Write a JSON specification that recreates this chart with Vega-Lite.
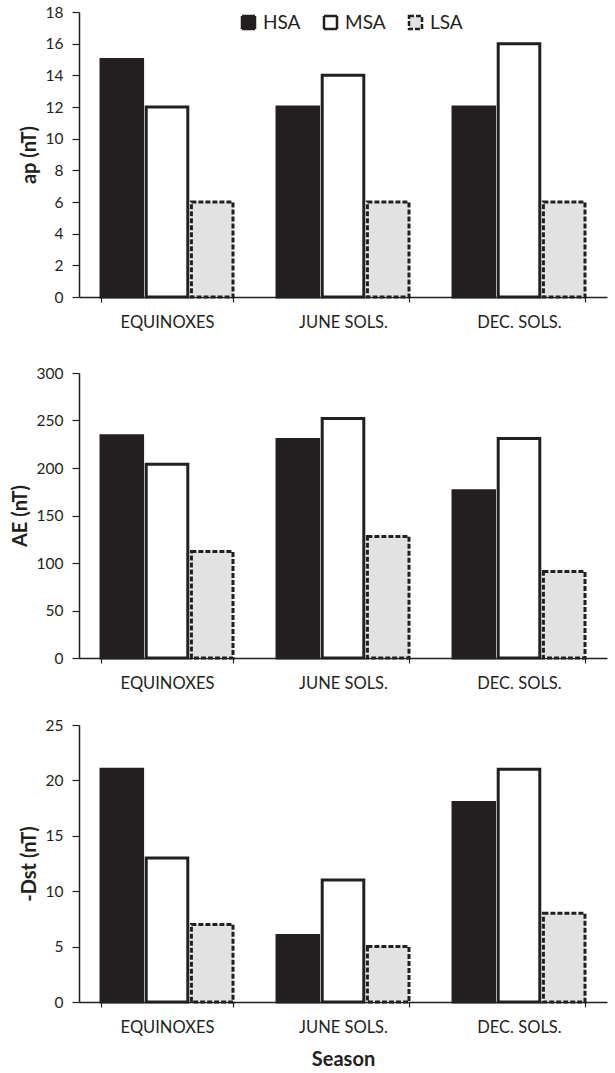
{
  "$schema": "https://vega.github.io/schema/vega-lite/v6.json",
  "padding": {"left": 10, "top": 5, "right": 5, "bottom": 3},
  "background": "white",
  "datasets": {
    "ap": [
      {"season": "EQUINOXES", "series": "HSA", "value": 15},
      {"season": "EQUINOXES", "series": "MSA", "value": 12},
      {"season": "EQUINOXES", "series": "LSA", "value": 6},
      {"season": "JUNE SOLS.", "series": "HSA", "value": 12},
      {"season": "JUNE SOLS.", "series": "MSA", "value": 14},
      {"season": "JUNE SOLS.", "series": "LSA", "value": 6},
      {"season": "DEC. SOLS.", "series": "HSA", "value": 12},
      {"season": "DEC. SOLS.", "series": "MSA", "value": 16},
      {"season": "DEC. SOLS.", "series": "LSA", "value": 6}
    ],
    "ae": [
      {"season": "EQUINOXES", "series": "HSA", "value": 234},
      {"season": "EQUINOXES", "series": "MSA", "value": 204},
      {"season": "EQUINOXES", "series": "LSA", "value": 112},
      {"season": "JUNE SOLS.", "series": "HSA", "value": 230},
      {"season": "JUNE SOLS.", "series": "MSA", "value": 252},
      {"season": "JUNE SOLS.", "series": "LSA", "value": 128},
      {"season": "DEC. SOLS.", "series": "HSA", "value": 176},
      {"season": "DEC. SOLS.", "series": "MSA", "value": 231},
      {"season": "DEC. SOLS.", "series": "LSA", "value": 91}
    ],
    "dst": [
      {"season": "EQUINOXES", "series": "HSA", "value": 21},
      {"season": "EQUINOXES", "series": "MSA", "value": 13},
      {"season": "EQUINOXES", "series": "LSA", "value": 7},
      {"season": "JUNE SOLS.", "series": "HSA", "value": 6},
      {"season": "JUNE SOLS.", "series": "MSA", "value": 11},
      {"season": "JUNE SOLS.", "series": "LSA", "value": 5},
      {"season": "DEC. SOLS.", "series": "HSA", "value": 18},
      {"season": "DEC. SOLS.", "series": "MSA", "value": 21},
      {"season": "DEC. SOLS.", "series": "LSA", "value": 8}
    ]
  },
  "config": {
    "view": {"stroke": null},
    "font": "Lato",
    "axis": {
      "domainColor": "#231f20",
      "tickColor": "#231f20",
      "labelColor": "#231f20",
      "titleColor": "#231f20",
      "grid": false,
      "labelFont": "Lato",
      "titleFont": "Lato",
      "titleFontWeight": "bold",
      "domainWidth": 1.5,
      "tickWidth": 1.2
    },
    "axisX": {"labelAngle": 0, "labelFontSize": 16.5, "tickSize": 5, "labelPadding": 12, "titleFontSize": 20, "titlePadding": 14},
    "axisY": {"labelFontSize": 15.5, "tickSize": 7, "labelPadding": 9, "titleFontSize": 20, "titlePadding": 6},
    "legend": {
      "orient": "none",
      "legendX": 160,
      "legendY": 1,
      "direction": "horizontal",
      "title": null,
      "symbolType": "square",
      "symbolSize": 169,
      "symbolStrokeWidth": 2.5,
      "labelFontSize": 19,
      "labelFont": "Lato",
      "labelColor": "#231f20",
      "columnPadding": 18,
      "labelOffset": 5
    }
  },
  "vconcat": [
    {
      "vconcat": [
        {
          "data": {"name": "ap"},
          "width": 528,
          "height": 285,
          "mark": {"type": "bar", "stroke": "#231f20", "strokeWidth": 3},
          "encoding": {
            "x": {"field": "season", "type": "nominal", "sort": ["EQUINOXES", "JUNE SOLS.", "DEC. SOLS."], "scale": {"paddingInner": 0.25, "paddingOuter": 0.125}, "axis": {"title": null, "tickBand": "extent"}},
            "xOffset": {"field": "series", "type": "nominal", "sort": ["HSA", "MSA", "LSA"], "scale": {"paddingInner": 0.08, "paddingOuter": 0}},
            "y": {"field": "value", "type": "quantitative", "scale": {"domain": [0, 18]}, "axis": {"title": "ap (nT)", "values": [0, 2, 4, 6, 8, 10, 12, 14, 16, 18]}},
            "fill": {
              "field": "series", "type": "nominal", "sort": ["HSA", "MSA", "LSA"],
              "scale": {"domain": ["HSA", "MSA", "LSA"], "range": ["#231f20", "#ffffff", "#e2e2e2"]},
              "legend": {"encode": {"symbols": {"update": {"stroke": {"value": "#231f20"}, "strokeWidth": {"value": 2.5}}}}}
            },
            "strokeDash": {"field": "series", "type": "nominal", "sort": ["HSA", "MSA", "LSA"], "scale": {"domain": ["HSA", "MSA", "LSA"], "range": [[1, 0], [1, 0], [5, 2]]}}
          }
        },
        {
          "data": {"name": "ae"},
          "width": 528,
          "height": 285,
          "mark": {"type": "bar", "stroke": "#231f20", "strokeWidth": 3},
          "encoding": {
            "x": {"field": "season", "type": "nominal", "sort": ["EQUINOXES", "JUNE SOLS.", "DEC. SOLS."], "scale": {"paddingInner": 0.25, "paddingOuter": 0.125}, "axis": {"title": null, "tickBand": "extent"}},
            "xOffset": {"field": "series", "type": "nominal", "sort": ["HSA", "MSA", "LSA"], "scale": {"paddingInner": 0.08, "paddingOuter": 0}},
            "y": {"field": "value", "type": "quantitative", "scale": {"domain": [0, 300]}, "axis": {"title": "AE (nT)", "values": [0, 50, 100, 150, 200, 250, 300]}},
            "fill": {"field": "series", "type": "nominal", "sort": ["HSA", "MSA", "LSA"]},
            "strokeDash": {"field": "series", "type": "nominal", "sort": ["HSA", "MSA", "LSA"]}
          }
        }
      ],
      "spacing": 35
    },
    {
      "data": {"name": "dst"},
      "width": 528,
      "height": 277,
      "mark": {"type": "bar", "stroke": "#231f20", "strokeWidth": 3},
      "encoding": {
        "x": {"field": "season", "type": "nominal", "sort": ["EQUINOXES", "JUNE SOLS.", "DEC. SOLS."], "scale": {"paddingInner": 0.25, "paddingOuter": 0.125}, "axis": {"title": "Season", "tickBand": "extent"}},
        "xOffset": {"field": "series", "type": "nominal", "sort": ["HSA", "MSA", "LSA"], "scale": {"paddingInner": 0.08, "paddingOuter": 0}},
        "y": {"field": "value", "type": "quantitative", "scale": {"domain": [0, 25]}, "axis": {"title": "-Dst (nT)", "values": [0, 5, 10, 15, 20, 25]}},
        "fill": {"field": "series", "type": "nominal", "sort": ["HSA", "MSA", "LSA"]},
        "strokeDash": {"field": "series", "type": "nominal", "sort": ["HSA", "MSA", "LSA"]}
      }
    }
  ],
  "spacing": 26
}
